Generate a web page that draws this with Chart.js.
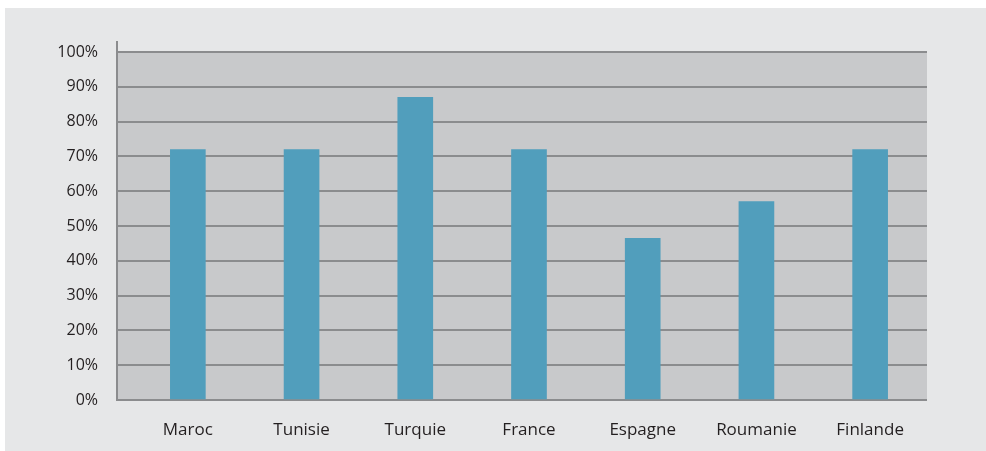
<!DOCTYPE html>
<html>
<head>
<meta charset="utf-8">
<script src="https://cdn.jsdelivr.net/npm/chart.js@4/dist/chart.umd.min.js"></script>
<style>
  html, body { margin: 0; padding: 0; background: #ffffff; }
  #wrap {
    position: absolute; left: 5px; top: 8px;
    width: 981px; height: 443px;
    background: #e6e7e8;
  }
  #chart { display: block; }
</style>
</head>
<body>
<div id="wrap"><canvas id="chart" width="981" height="443"></canvas></div>
<script>
const categories = ['Maroc', 'Tunisie', 'Turquie', 'France', 'Espagne', 'Roumanie', 'Finlande'];
const values = [72, 72, 87, 72, 46.5, 57, 72];
const yTicks = [0, 10, 20, 30, 40, 50, 60, 70, 80, 90, 100];

const gridColor = '#8b8c8e';
const textColor = '#231f20';

// grey band behind the bars, from 0% up to 100%
const plotFill = {
    id: 'plotFill',
    beforeDraw(chart) {
        const { ctx, chartArea, scales } = chart;
        const top = scales.y.getPixelForValue(100);
        const bottom = scales.y.getPixelForValue(0);
        ctx.save();
        ctx.fillStyle = '#c8c9cb';
        ctx.fillRect(chartArea.left, top, chartArea.right - chartArea.left, bottom - top);
        ctx.restore();
    }
};

const ctx = document.getElementById('chart').getContext('2d');
new Chart(ctx, {
    type: 'bar',
    data: {
        datasets: [{
            data: values.map((v, i) => ({ x: i, y: v })),
            backgroundColor: '#519ebc',
            barThickness: 35,
        }]
    },
    options: {
        responsive: false,
        animation: false,
        layout: { padding: { top: 34, right: 59, left: 0, bottom: 0 } },
        plugins: {
            legend: { display: false },
            tooltip: { enabled: false }
        },
        scales: {
            x: {
                type: 'linear',
                offset: false,
                min: -0.623,
                max: 6.5,
                grid: { display: false, drawTicks: false },
                border: { display: false },
                afterBuildTicks: scale => { scale.ticks = categories.map((c, i) => ({ value: i })); },
                afterFit: scale => { scale.height = 51; },
                ticks: {
                    autoSkip: false,
                    maxRotation: 0,
                    padding: 20,
                    color: textColor,
                    font: { family: 'Open Sans', size: 17 },
                    callback: v => categories[v]
                }
            },
            y: {
                min: 0,
                max: 102.9,
                grid: { color: gridColor, lineWidth: 2, drawTicks: false },
                border: { display: true, color: gridColor, width: 2 },
                afterBuildTicks: scale => { scale.ticks = yTicks.map(v => ({ value: v })); },
                afterFit: scale => { scale.width = 112; },
                ticks: {
                    padding: 19,
                    color: textColor,
                    font: { family: 'Open Sans', size: 16 },
                    callback: v => v + '%'
                }
            }
        }
    },
    plugins: [plotFill]
});
</script>
</body>
</html>
